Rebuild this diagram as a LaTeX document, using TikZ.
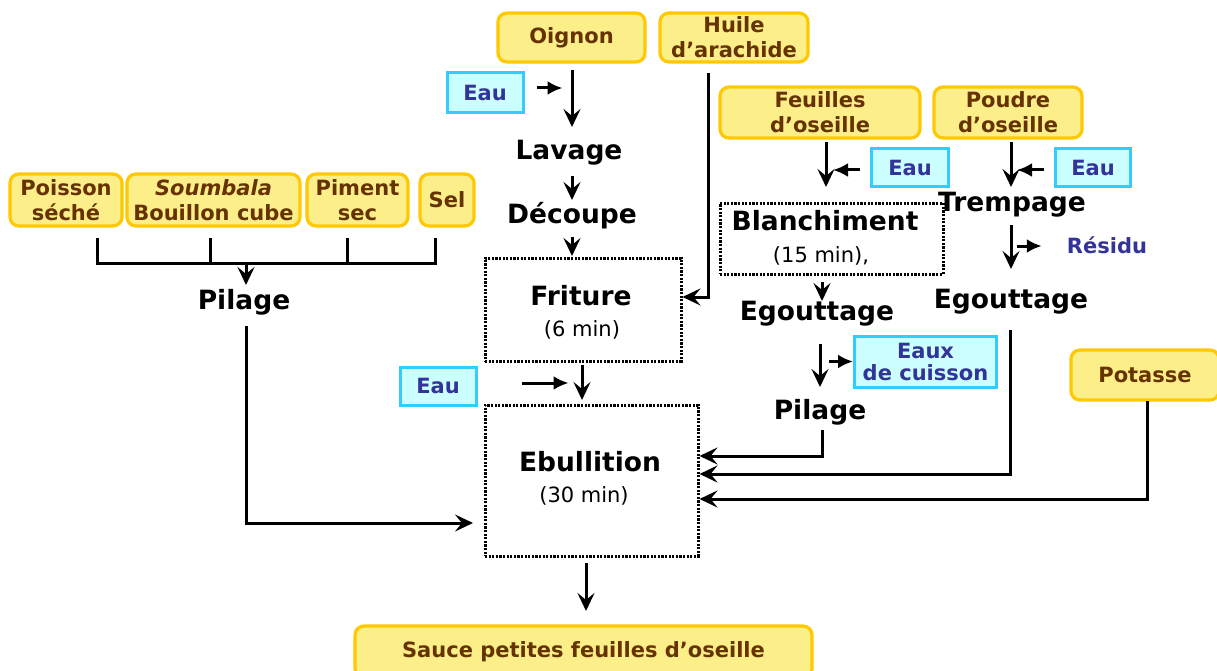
\documentclass[tikz,border=0pt]{standalone}
\usepackage{fontspec}
\setmainfont{DejaVu Sans}
\usetikzlibrary{arrows.meta,calc}
\definecolor{ingfill}{HTML}{FCEE88}
\definecolor{ingline}{HTML}{FFC800}
\definecolor{ingtext}{HTML}{663300}
\definecolor{eaufill}{HTML}{CCFFFF}
\definecolor{eauline}{HTML}{33CCFF}
\definecolor{eautext}{HTML}{333399}
\tikzset{
  ingr/.style={draw=ingline, fill=ingfill, line width=3.2pt, rounded corners=9pt,
    text=ingtext, font=\fontsize{21}{25}\selectfont\bfseries, align=center, inner sep=0pt},
  water/.style={draw=eauline, fill=eaufill, line width=3pt, text=eautext,
    font=\fontsize{21}{22}\selectfont\bfseries, align=center, inner sep=0pt},
  waste/.style={text=eautext, font=\fontsize{21}{22}\selectfont\bfseries, inner sep=0pt},
  stage/.style={font=\fontsize{26.5}{28}\selectfont\bfseries, align=center, inner sep=0pt},
  timing/.style={font=\fontsize{21}{22}\selectfont, inner sep=0pt},
  procbox/.style={draw, dash pattern=on 2.2pt off 1.4pt, line width=3pt, inner sep=0pt},
  flow/.style={line width=3pt, -{Stealth[length=18pt,width=17pt,inset=7pt]}},
  feed/.style={line width=3pt, -{Latex[length=15pt,width=14pt]}},
  link/.style={line width=3pt},
}
\begin{document}
\begin{tikzpicture}[x=1pt,y=-1pt]
\useasboundingbox (0,0) rectangle (1217,671);

% ingredient boxes
\node[ingr, minimum width=147pt, minimum height=49pt] (oignon) at (571.5,37.5) {Oignon};
\node[ingr, minimum width=148pt, minimum height=49pt] (huile) at (734,37.5) {Huile\\d’arachide};
\node[ingr, minimum width=200pt, minimum height=51pt] (feuilles) at (820,112.5) {Feuilles\\d’oseille};
\node[ingr, minimum width=148pt, minimum height=51pt] (poudre) at (1008,112.5) {Poudre\\d’oseille};
\node[ingr, minimum width=112pt, minimum height=52pt] (poisson) at (66,200) {Poisson\\séché};
\node[ingr, minimum width=173pt, minimum height=52pt] (soumbala) at (213.5,200) {{\itshape Soumbala}\\Bouillon cube};
\node[ingr, minimum width=101pt, minimum height=52pt] (piment) at (357.5,200) {Piment\\sec};
\node[ingr, minimum width=54pt, minimum height=52pt] (sel) at (447,200) {Sel};
\node[ingr, minimum width=148pt, minimum height=50pt] (potasse) at (1145,375) {Potasse};
\node[ingr, minimum width=457pt, minimum height=52pt] (sauce) at (583.5,652) {Sauce petites feuilles d’oseille};

% water inputs and outputs
\node[water, minimum width=76pt, minimum height=40pt] (eau1) at (485,93) {Eau};
\node[water, minimum width=77pt, minimum height=38pt] (eau2) at (910,168) {Eau};
\node[water, minimum width=75pt, minimum height=38pt] (eau3) at (1093,168) {Eau};
\node[water, minimum width=76pt, minimum height=38pt] (eau4) at (438,386) {Eau};
\node[water, minimum width=142pt, minimum height=51pt] (eaux) at (925.5,361.5) {Eaux\\de cuisson};
\node[waste] (residu) at (1107,245) {Résidu};

% processing steps
\node[stage] (lavage) at (569,153) {Lavage};
\node[stage] (decoupe) at (572,216) {Découpe};
\node[stage] (pilageL) at (244,302) {Pilage};
\node[procbox, minimum width=196pt, minimum height=103pt] (friture) at (583,309.5) {};
\node[stage] (fritureT) at (581,296) {Friture};
\node[timing] (fritureD) at (582,330) {(6 min)};
\node[procbox, minimum width=223pt, minimum height=71pt] (blanch) at (831.5,238.5) {};
\node[stage] (blanchT) at (825,221) {Blanchiment};
\node[timing] (blanchD) at (821,256) {(15 min),};
\node[stage] (trempage) at (1012,205) {Trempage};
\node[stage] (egoutM) at (817,314) {Egouttage};
\node[stage] (egoutR) at (1011,302) {Egouttage};
\node[stage] (pilageM) at (820,412) {Pilage};
\node[procbox, minimum width=213pt, minimum height=151pt] (ebull) at (591.5,480.5) {};
\node[stage] (ebullT) at (590,462) {Ebullition};
\node[timing] (ebullD) at (584,496) {(30 min)};

% onion line
\draw[flow] (572,70) -- (572,127);
\draw[feed] (eau1.east) ++(12,-5) -- ++(26,0);
\draw[flow] (572,176) -- (572,200);
\draw[flow] (572,237) -- (572,256);
% groundnut oil into frying
\draw[flow] (708,73) |- (friture.east |- 0,297);

% sorrel leaves
\draw[flow] (826,142) -- (826,187);
\draw[feed] (eau2.west) ++(-10,2) -- ++(-27,0);
\draw[flow] (822,282) -- (822,301);
\draw[flow] (820,344) -- (820,387);
\draw[feed] (eaux.west) ++(-24,0) -- ++(24,0);

% sorrel powder
\draw[flow] (1011,142) -- (1011,187);
\draw[feed] (eau3.west) ++(-10,2) -- ++(-27,0);
\draw[flow] (1011,225) -- (1011,269);
\draw[feed] (residu.west) ++(-50,1) -- ++(25,0);

% ingredients pounded together
\draw[link] (97,238) -- (97,263) -- (435,263) -- (435,238);
\draw[link] (210,238) -- (210,263);
\draw[link] (347,238) -- (347,263);
\draw[flow] (246,263) -- (246,285);

% into the boil
\draw[flow] (582,365) -- (582,400);
\draw[feed] (eau4.east) ++(44,-3) -- ++(47,0);
\draw[flow] (246,326) |- (473,523);
\draw[flow] (822,430) |- (ebull.east |- 0,456);
\draw[flow] (1010,330) |- (ebull.east |- 0,474);
\draw[flow] (1147,401) |- (ebull.east |- 0,499);

% final product
\draw[flow] (586,563) -- (586,611);
\end{tikzpicture}
\end{document}
